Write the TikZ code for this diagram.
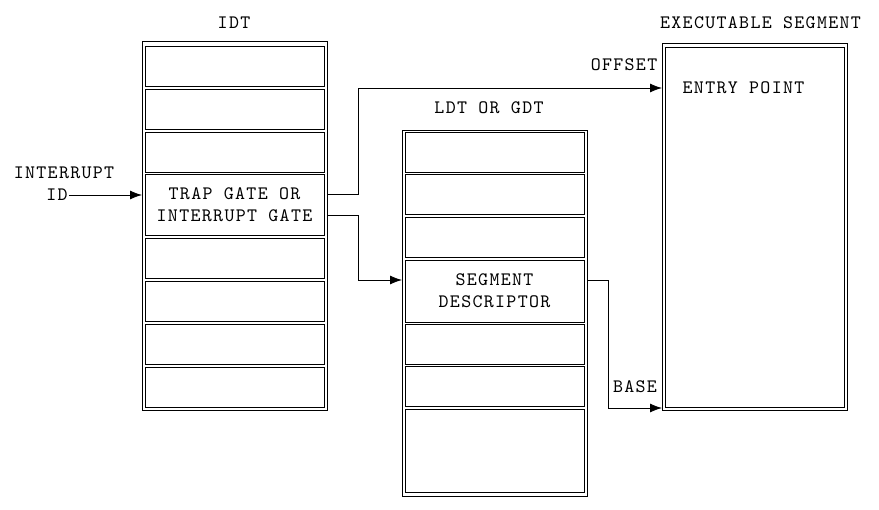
\documentclass[tikz,border=0pt]{standalone}
\usepackage{fontspec}
\newfontfamily\diagfont{lmmono10-regular}[Extension=.otf,LetterSpace=7]
\usetikzlibrary{arrows.meta}
\begin{document}
\begin{tikzpicture}[x=1pt,y=-1pt,>={Latex[length=12pt,width=9pt]},
every node/.style={font=\diagfont\fontsize{19}{22}\selectfont,inner sep=1pt},
frame/.style={draw,line width=.8pt,inner sep=0pt,outer sep=0pt},
cell/.style={draw,line width=.9pt,minimum width=179pt,minimum height=40pt,inner sep=0pt,outer sep=0pt,align=center},
link/.style={->,line width=.8pt}]
\useasboundingbox (0,0) rectangle (879,510);
\node[frame,minimum width=185pt,minimum height=369pt](idt) at (234.5,225.5) {};
\foreach \n/\y in {1/66,2/109,3/152,5/258,6/301,7/344,8/387}
\node[cell](idt\n) at (234.5,\y) {};
\node[cell,minimum height=61pt](trap) at (234.5,204.5) {TRAP GATE OR\\INTERRUPT GATE};
\node[frame,minimum width=185pt,minimum height=366pt](ldt) at (494.5,313) {};
\foreach \n/\y in {1/152,2/194.5,3/237,5/344.5,6/386.5}
\node[cell](ldt\n) at (494.5,\y) {};
\node[cell,minimum height=62pt](desc) at (494.5,291) {SEGMENT\\DESCRIPTOR};
\node[cell,minimum height=83pt](ldt7) at (494.5,450.5) {};
\node[frame,minimum width=185pt,minimum height=367pt](exe) at (754.5,226.5) {};
\node[frame,minimum width=179pt,minimum height=360pt](exein) at (754.5,227) {};
\node at (234,23) {IDT};
\node at (489,108) {LDT OR GDT};
\node at (760.5,23) {EXECUTABLE SEGMENT};
\node(entry) at (743.5,88) {ENTRY POINT};
\node(intr) at (64,173) {INTERRUPT};
\node(id) at (57,195) {ID};
\node(offset) at (624,65) {OFFSET};
\node(base) at (635,387) {BASE};
\draw[link] (id) -- (id -| idt.west);
\draw[link] (idt.east |- 0,194) -- ++(31,0) |- (exe.west |- entry);
\draw[link] (idt.east |- 0,215) -- ++(31,0) |- (ldt.west |- 0,280);
\draw[link] (ldt.east |- 0,280) -- ++(21,0) |- (exe.west |- 0,408);
\end{tikzpicture}
\end{document}
